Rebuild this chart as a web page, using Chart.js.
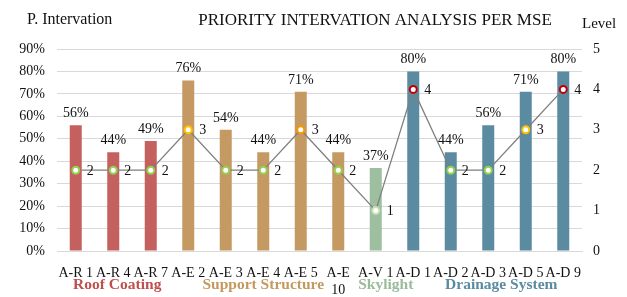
<!DOCTYPE html>
<html lang="en">
<head>
  <meta charset="UTF-8">
  <title>Priority Intervation Analysis per MSE</title>
  <script src="https://cdn.jsdelivr.net/npm/chart.js"></script>
  <style>
    html, body {
      margin: 0;
      padding: 0;
      background: #fff;
    }
    #wrap {
      width: 627px;
      height: 297px;
    }
  </style>
</head>
<body>
  <div id="wrap"><canvas id="mseChart" width="627" height="297"></canvas></div>

  <script>
    // data
    const categories = ['A-R 1', 'A-R 4', 'A-R 7', 'A-E 2', 'A-E 3', 'A-E 4', 'A-E 5', ['A-E', '10'],
                        'A-V 1', 'A-D 1', 'A-D 2', 'A-D 3', 'A-D 5', 'A-D 9'];
    const intervention = [56, 44, 49, 76, 54, 44, 71, 44, 37, 80, 44, 56, 71, 80];
    const level = [2, 2, 2, 3, 2, 2, 3, 2, 1, 4, 2, 2, 3, 4];
    const groupOf = [0, 0, 0, 1, 1, 1, 1, 1, 2, 3, 3, 3, 3, 3];
    const groups = ['Roof Coating', 'Support Structure', 'Skylight', 'Drainage System'];
    const leftTicks = [0, 10, 20, 30, 40, 50, 60, 70, 80, 90];
    const rightTicks = [0, 1, 2, 3, 4, 5];

    const SERIF = '"Liberation Serif", "Times New Roman", serif';
    const barColors = ['#C4605E', '#C49A62', '#9DBF9F', '#5B8BA0'];
    const groupTextColors = ['#C0504D', '#C4995F', '#9BBB9B', '#5B8BA0'];
    const groupNudge = [4, 0, 10, 13];
    const levelColors = { 1: '#C6E0B4', 2: '#92D050', 3: '#FFC000', 4: '#C00000' };
    const pointBorders = level.map((v, i) => i === 6 ? '#F59A00' : levelColors[v]);

    const labelPlugin = {
      id: 'labels',
      afterDatasetsDraw(chart) {
        const ctx = chart.ctx;
        ctx.save();
        ctx.font = '14px ' + SERIF;
        ctx.fillStyle = '#111';
        // percentages above bars
        const bars = chart.getDatasetMeta(0).data;
        ctx.textAlign = 'center';
        ctx.textBaseline = 'alphabetic';
        bars.forEach((b, i) => {
          ctx.fillText(intervention[i] + '%', b.x, b.y - 8);
        });
        // level next to points
        const pts = chart.getDatasetMeta(1).data;
        ctx.textAlign = 'left';
        ctx.textBaseline = 'middle';
        pts.forEach((p, i) => {
          ctx.fillText(String(level[i]), p.x + 11, p.y + 1);
        });
        ctx.restore();
      },
      afterDraw(chart) {
        const ctx = chart.ctx;
        const x = chart.scales.x;
        ctx.save();
        ctx.fillStyle = '#111';
        ctx.textBaseline = 'middle';
        ctx.font = '17px ' + SERIF;
        ctx.textAlign = 'center';
        ctx.fillText('PRIORITY INTERVATION ANALYSIS PER MSE', 375, 21);
        ctx.font = '16px ' + SERIF;
        ctx.textAlign = 'left';
        ctx.fillText('P. Intervation', 27, 20);
        ctx.font = '15px ' + SERIF;
        ctx.fillText('Level', 582, 24);

        // group names under the ticks
        ctx.font = 'bold 15.5px ' + SERIF;
        ctx.textAlign = 'center';
        ctx.textBaseline = 'alphabetic';
        groups.forEach((g, gi) => {
          const idx = groupOf.map((v, i) => v === gi ? i : -1).filter(i => i >= 0);
          const cx = (x.getPixelForValue(idx[0]) + x.getPixelForValue(idx[idx.length - 1])) / 2;
          ctx.fillStyle = groupTextColors[gi];
          ctx.fillText(g, cx + groupNudge[gi], 289);
        });
        ctx.restore();
      }
    };

    new Chart(document.getElementById('mseChart'), {
      data: {
        labels: categories,
        datasets: [{
          type: 'bar',
          label: 'P. Intervation',
          data: intervention,
          backgroundColor: groupOf.map(g => barColors[g]),
          barPercentage: 0.32,
          categoryPercentage: 1,
          yAxisID: 'y',
          order: 2
        }, {
          type: 'line',
          label: 'Level',
          data: level,
          yAxisID: 'y1',
          borderColor: '#7F7F7F',
          borderWidth: 1.3,
          pointRadius: 3.5,
          pointBorderWidth: 2,
          pointBackgroundColor: '#fff',
          pointBorderColor: pointBorders,
          tension: 0,
          order: 1
        }]
      },
      options: {
        responsive: false,
        animation: false,
        layout: { padding: { top: 49, left: 0, right: 0, bottom: 0 } },
        plugins: {
          legend: { display: false },
          tooltip: { enabled: false }
        },
        scales: {
          x: {
            grid: { display: false },
            border: { color: '#D9D9D9' },
            ticks: {
              color: '#111',
              font: { family: SERIF, size: 14 },
              maxRotation: 0,
              autoSkip: false,
              padding: 6
            },
            afterFit: s => { s.height = 46; }
          },
          y: {
            position: 'left',
            min: 0,
            max: 90,
            afterBuildTicks: s => { s.ticks = leftTicks.map(v => ({ value: v })); },
            grid: { color: '#D9D9D9', drawTicks: false },
            border: { display: false },
            ticks: {
              color: '#111',
              font: { family: SERIF, size: 14 },
              padding: 12,
              callback: v => v + '%'
            },
            afterFit: s => { s.width = 57; }
          },
          y1: {
            position: 'right',
            min: 0,
            max: 5,
            afterBuildTicks: s => { s.ticks = rightTicks.map(v => ({ value: v })); },
            grid: { display: false, drawTicks: false },
            border: { display: false },
            ticks: {
              color: '#111',
              font: { family: SERIF, size: 14 },
              padding: 11
            },
            afterFit: s => { s.width = 45; }
          }
        }
      },
      plugins: [labelPlugin]
    });
  </script>
</body>
</html>
